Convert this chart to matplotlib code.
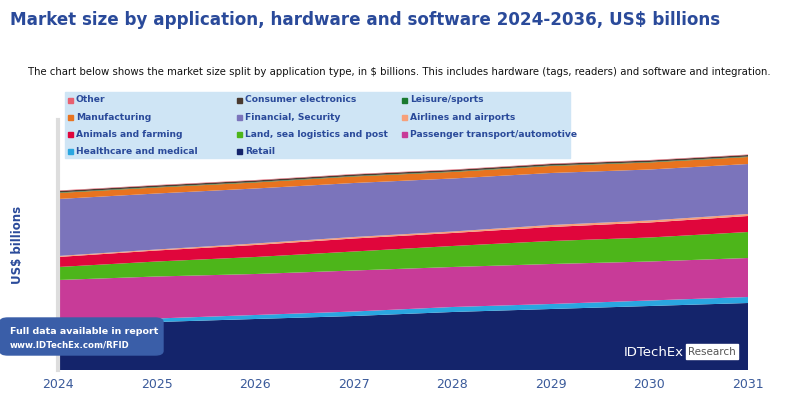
import matplotlib
matplotlib.use("Agg")
import matplotlib.pyplot as plt
from matplotlib.patches import Rectangle, FancyBboxPatch

years = [2024, 2025, 2026, 2027, 2028, 2029, 2030, 2031]
retail = [45, 48, 51, 54, 58, 61, 64, 67]
healthcare = [3, 3.5, 4, 4.5, 5, 5, 5.5, 6]
passenger = [42, 42, 41, 41, 40, 40, 39, 39]
land = [13, 15, 17, 19, 21, 23, 24, 26]
animals = [10, 11, 12, 13, 13, 14, 15, 16]
airlines = [1, 1, 1.5, 1.5, 1.5, 2, 2, 2]
financial = [57, 56, 55, 54, 53, 52, 51, 50]
manufacturing = [6, 6, 6, 6.5, 6.5, 7, 7, 7]
leisure = [0.5] * 8
consumer = [1.5] * 8
other = [0.5] * 8

series = [retail, healthcare, passenger, land, animals, airlines, financial,
          manufacturing, leisure, consumer, other]
names = ["Retail", "Healthcare and medical", "Passenger transport/automotive",
         "Land, sea logistics and post", "Animals and farming", "Airlines and airports",
         "Financial, Security", "Manufacturing", "Leisure/sports",
         "Consumer electronics", "Other"]
colors = ["#14246b", "#2aa6e0", "#c83b98", "#4db51a", "#e0063c", "#f7a07a",
          "#7b74bb", "#e8731f", "#1a7a30", "#4a3a30", "#e86070"]

W, H = 789, 404
fig = plt.figure(figsize=(W / 100, H / 100), dpi=100)
ax = fig.add_axes([58 / W, (H - 370) / H, (748 - 58) / W, 250 / H])
ax.stackplot(years, *series, colors=colors, linewidth=0)
ax.set_xlim(2024, 2031)
ax.set_ylim(0, 250)
for s in ["top", "right", "bottom"]:
    ax.spines[s].set_visible(False)
ax.spines["left"].set_color("#dddddd")
ax.spines["left"].set_linewidth(3)
ax.set_yticks([])
ax.set_xticks(years)
ax.set_xticklabels([str(y) for y in years], color="#3a5a9a", fontsize=9)
ax.tick_params(axis="x", length=0, pad=6)

fig.text(10 / W, 1 - 20 / H, "Market size by application, hardware and software 2024-2036, US$ billions",
         color="#2a4a9a", fontsize=12.1, fontweight="bold", va="center")
fig.text(28 / W, 1 - 72 / H, "The chart below shows the market size split by application type, in $ billions. This includes hardware (tags, readers) and software and integration.",
         color="#111111", fontsize=7.3, va="center")
fig.text(18 / W, 1 - 245 / H, "US$ billions", color="#2a4a9a", fontsize=8.5,
         fontweight="bold", rotation=90, ha="center", va="center")

# legend box
fig.patches.append(Rectangle((65 / W, 1 - 158 / H), 505 / W, 66 / H,
                             transform=fig.transFigure, color="#cfe5f5", zorder=5))
legend_layout = [["Other", "Consumer electronics", "Leisure/sports"],
                 ["Manufacturing", "Financial, Security", "Airlines and airports"],
                 ["Animals and farming", "Land, sea logistics and post", "Passenger transport/automotive"],
                 ["Healthcare and medical", "Retail"]]
colx = [68, 237, 402]
for r, row in enumerate(legend_layout):
    for c, nm in enumerate(row):
        y = 1 - (100 + r * 17) / H
        col = colors[names.index(nm)]
        fig.patches.append(Rectangle((colx[c] / W, y - 2.5 / H), 5 / W, 5 / H,
                                     transform=fig.transFigure, color=col, zorder=6))
        fig.text((colx[c] + 8) / W, y, nm, color="#2a4a9a", fontsize=6.6,
                 fontweight="bold", va="center", zorder=7)

# full data box
fig.patches.append(FancyBboxPatch((0, 1 - 355 / H), 163 / W, 37 / H,
                                  boxstyle="round,pad=0,rounding_size=0.01",
                                  transform=fig.transFigure, color="#3a5ea8", zorder=5))
fig.text(10 / W, 1 - 331 / H, "Full data available in report", color="white",
         fontsize=6.8, fontweight="bold", va="center", zorder=6)
fig.text(10 / W, 1 - 345 / H, "www.IDTechEx.com/RFID", color="white",
         fontsize=6.2, fontweight="bold", va="center", zorder=6)

# logo
fig.text(624 / W, 1 - 352 / H, "IDTechEx", color="white", fontsize=9.5, va="center", zorder=6)
fig.patches.append(Rectangle((686 / W, 1 - 359 / H), 52 / W, 15 / H,
                             transform=fig.transFigure, color="white", zorder=6))
fig.text(712 / W, 1 - 352 / H, "Research", color="#555555", fontsize=7.5,
         ha="center", va="center", zorder=7)

fig.savefig("out.png", dpi=100)
